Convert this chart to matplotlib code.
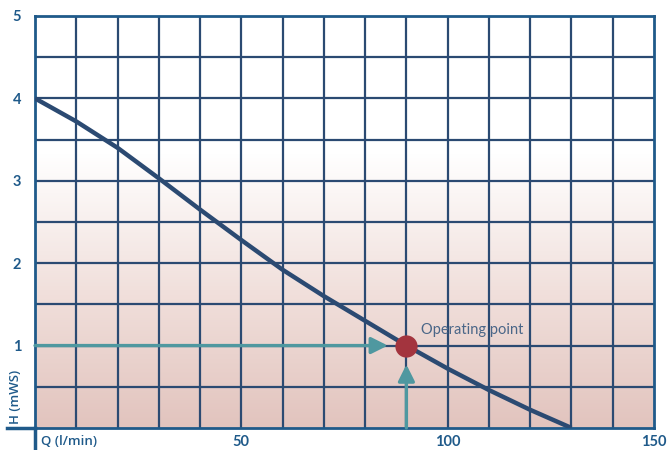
import matplotlib

matplotlib.use("Agg")
import matplotlib.pyplot as plt
import numpy as np
from matplotlib.colors import LinearSegmentedColormap

plt.rcParams["font.family"] = ["Lato", "DejaVu Sans"]

# pump curve
flow = [0, 10, 20, 30, 40, 50, 60, 70, 80, 90, 100, 110, 120, 130]
head = [4.0, 3.72, 3.4, 3.03, 2.65, 2.28, 1.92, 1.6, 1.3, 1.0, 0.72, 0.46, 0.22, 0.0]
op_flow, op_head = 90, 1.0
x_ticks = [50, 100, 150]
y_ticks = [1, 2, 3, 4, 5]

NAVY = "#2b4a72"
EDGE = "#1f5a8a"
TEAL = "#4f98a0"
RED = "#a3343e"

fig = plt.figure(figsize=(6.67, 4.5), dpi=100)
ax = fig.add_axes([0.0525, 0.049, 0.928, 0.9155])
ax.set_xlim(0, 150)
ax.set_ylim(0, 5)

# background gradient: white at top, pink at bottom
cmap = LinearSegmentedColormap.from_list("bg", ["#e2c4be", "#f1e0dc", "#ffffff", "#ffffff"])
grad = np.linspace(0, 1, 256).reshape(-1, 1)
ax.imshow(grad, extent=[0, 150, 0, 5], origin="lower", cmap=cmap, aspect="auto", zorder=0)

for xv in np.arange(10, 150, 10):
    ax.axvline(xv, color=NAVY, lw=1.6, zorder=1)
for yv in np.arange(0.5, 5, 0.5):
    ax.axhline(yv, color=NAVY, lw=1.6, zorder=1)

ax.plot(flow, head, color=NAVY, lw=3.2, zorder=3, solid_capstyle="butt")

# arrows to the operating point
ax.annotate("", xy=(op_flow - 4.5, op_head), xytext=(0, op_head),
            arrowprops=dict(arrowstyle="-|>,head_length=1.0,head_width=0.5", color=TEAL, lw=2.4, shrinkA=0, shrinkB=0),
            zorder=4)
ax.annotate("", xy=(op_flow, op_head - 0.23), xytext=(op_flow, 0),
            arrowprops=dict(arrowstyle="-|>,head_length=1.0,head_width=0.5", color=TEAL, lw=2.4, shrinkA=0, shrinkB=0),
            zorder=4)
ax.plot([op_flow], [op_head], "o", ms=15, color=RED, zorder=5)
ax.text(93.5, 1.19, "Operating point", fontsize=10.5, color="#4a6688", va="center", ha="left", zorder=5)

for side in ["top", "right", "left", "bottom"]:
    ax.spines[side].set_color(EDGE)
    ax.spines[side].set_linewidth(2)

# extended axis lines at the origin
ax.plot([0, 0], [0, -0.27], color=EDGE, lw=2.5, clip_on=False, zorder=6)
ax.plot([-6.8, 0], [0, 0], color=EDGE, lw=2.5, clip_on=False, zorder=6)

ax.set_xticks(x_ticks)
ax.set_yticks(y_ticks)
ax.tick_params(length=0, labelsize=10.5, labelcolor=EDGE, pad=5)
for lab in ax.get_xticklabels() + ax.get_yticklabels():
    lab.set_fontweight("bold")
ax.tick_params(axis="y", pad=10)

lab_font = ["Open Sans", "DejaVu Sans"]
ax.text(1.5, -0.08, "Q (l/min)", fontsize=9.5, fontweight="semibold", family=lab_font,
        color=EDGE, va="top", ha="left", clip_on=False)
ax.text(-4.8, 0.05, "H (mWS)", fontsize=9.5, fontweight="semibold", family=lab_font,
        color=EDGE, va="bottom", ha="center", rotation=90, clip_on=False)

fig.savefig("out.png", dpi=100)
